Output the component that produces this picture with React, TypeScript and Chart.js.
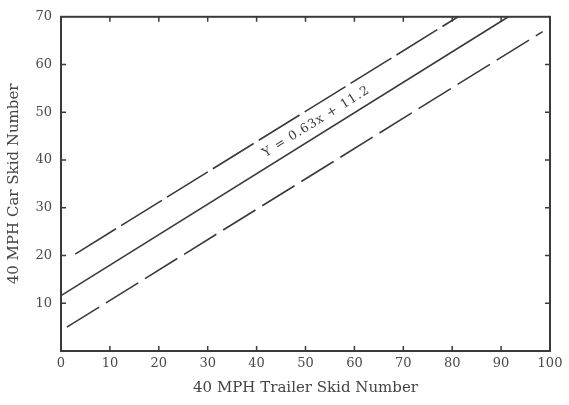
import React, { useEffect, useRef } from "react";
import { Chart, registerables } from "chart.js";

Chart.register(...registerables);

// Axis ticks
const xTickValues = [0, 10, 20, 30, 40, 50, 60, 70, 80, 90, 100];
const yTickValues = [0, 10, 20, 30, 40, 50, 60, 70];

// Upper dashed bound
const upperX = [2.9, 81.2];
const upperY = [20.3, 70];
// Regression line Y = 0.63x + 11.2
const fitX = [0, 91.5];
const fitY = [11.6, 70];
// Lower dashed bound
const lowerX = [1.2, 98.5];
const lowerY = [5.0, 66.9];

const equationText = "Y = 0.63x + 11.2";
const equationAt = [52.2, 48.0];

const xTitle = "40 MPH Trailer Skid Number";
const yTitle = "40 MPH Car Skid Number";

const toPoints = (xs: number[], ys: number[]) => xs.map((x, i) => ({ x, y: ys[i] }));

const FONT = "'DejaVu Serif', 'Liberation Serif', serif";
const INK = "#3a3a3a";

const framePlugin = {
  id: "frame",
  afterDraw(chart: any) {
    const { ctx, chartArea: a, scales } = chart;
    const x = scales.x;
    const y = scales.y;
    ctx.save();
    ctx.strokeStyle = INK;
    ctx.lineWidth = 2;
    ctx.strokeRect(a.left, a.top, a.right - a.left, a.bottom - a.top);
    ctx.lineWidth = 1.5;
    ctx.beginPath();
    for (const v of xTickValues) {
      if (v === 0 || v === 100) continue;
      const px = x.getPixelForValue(v);
      ctx.moveTo(px, a.bottom);
      ctx.lineTo(px, a.bottom - 5);
      ctx.moveTo(px, a.top);
      ctx.lineTo(px, a.top + 5);
    }
    for (const v of yTickValues) {
      if (v === 0 || v === 70) continue;
      const py = y.getPixelForValue(v);
      ctx.moveTo(a.left, py);
      ctx.lineTo(a.left + 5, py);
      ctx.moveTo(a.right, py);
      ctx.lineTo(a.right - 5, py);
    }
    ctx.stroke();

    // equation label along the fit line
    const x0 = x.getPixelForValue(fitX[0]);
    const y0 = y.getPixelForValue(fitY[0]);
    const x1 = x.getPixelForValue(fitX[1]);
    const y1 = y.getPixelForValue(fitY[1]);
    const angle = Math.atan2(y1 - y0, x1 - x0);
    ctx.translate(x.getPixelForValue(equationAt[0]), y.getPixelForValue(equationAt[1]));
    ctx.rotate(angle);
    ctx.fillStyle = INK;
    ctx.font = `12.5px ${FONT}`;
    (ctx as any).letterSpacing = "1px";
    ctx.textAlign = "center";
    ctx.textBaseline = "middle";
    ctx.fillText(equationText, 0, 0);
    ctx.restore();
  },
};

export default function App() {
  const ref = useRef<HTMLCanvasElement | null>(null);

  useEffect(() => {
    if (!ref.current) return;
    const lineDs = (label: string, xs: number[], ys: number[], dash: number[]) => ({
      label,
      data: toPoints(xs, ys),
      borderColor: INK,
      borderWidth: 1.6,
      borderDash: dash,
      pointRadius: 0,
      fill: false,
      tension: 0,
    });
    const chart = new Chart(ref.current, {
      type: "line",
      data: {
        datasets: [
          lineDs("Upper", upperX, upperY, [48, 6]),
          lineDs("Fit", fitX, fitY, []),
          lineDs("Lower", lowerX, lowerY, [38, 8]),
        ],
      },
      options: {
        responsive: false,
        animation: false,
        devicePixelRatio: 1,
        layout: { padding: { top: 9, right: 19, left: 0, bottom: 0 } },
        plugins: { legend: { display: false }, tooltip: { enabled: false } },
        scales: {
          x: {
            type: "linear",
            min: 0,
            max: 100,
            afterBuildTicks: (s: any) => {
              s.ticks = xTickValues.map((v) => ({ value: v }));
            },
            afterFit: (s: any) => {
              s.height = 54;
            },
            grid: { display: false, drawTicks: false },
            border: { display: false },
            ticks: {
              padding: 5,
              color: "#4a4a4a",
              font: { family: FONT, size: 13 },
              maxRotation: 0,
            },
            title: {
              display: true,
              text: xTitle,
              color: "#444",
              font: { family: FONT, size: 15 },
              padding: { top: 0, bottom: 8 },
            },
          },
          y: {
            type: "linear",
            min: 0,
            max: 70,
            afterBuildTicks: (s: any) => {
              s.ticks = yTickValues.map((v) => ({ value: v }));
            },
            afterFit: (s: any) => {
              s.width = 61;
            },
            grid: { display: false, drawTicks: false },
            border: { display: false },
            ticks: {
              padding: 9,
              color: "#4a4a4a",
              font: { family: FONT, size: 13 },
              callback: (v: any) => (v === 0 ? "" : String(v)),
            },
            title: {
              display: true,
              text: yTitle,
              color: "#444",
              font: { family: FONT, size: 15 },
              padding: { top: 5, bottom: 0 },
            },
          },
        },
      },
      plugins: [framePlugin],
    });
    return () => chart.destroy();
  }, []);

  return (
    <div style={{ position: "absolute", left: 0, top: 0, width: 569, height: 405, background: "#fff" }}>
      <canvas ref={ref} width={569} height={405} style={{ width: 569, height: 405, display: "block" }} />
    </div>
  );
}
